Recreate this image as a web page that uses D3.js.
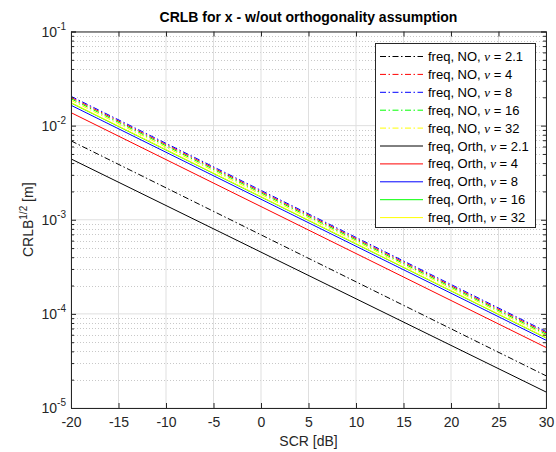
<!DOCTYPE html>
<html>
<head>
<meta charset="utf-8">
<script src="https://cdn.jsdelivr.net/npm/d3@7"></script>
<style>
  body { margin: 0; background: #fff; }
  text { font-family: "Liberation Sans", Arial, sans-serif; }
</style>
</head>
<body>
<div id="chart"></div>
<script>
var W = 556, H = 452;
var pl = 71, pr = 546, pt = 31.5, pb = 408;

// SCR range (dB) where every curve starts and ends
var scr = [-20, 30];
var xTicks = [-20, -15, -10, -5, 0, 5, 10, 15, 20, 25, 30];
var yDecades = [-5, -4, -3, -2, -1];

// series: CRLB^{1/2} read at SCR = -20 dB and 30 dB
var names = ["freq, NO, ", "freq, NO, ", "freq, NO, ", "freq, NO, ", "freq, NO, ",
  "freq, Orth, ", "freq, Orth, ", "freq, Orth, ", "freq, Orth, ", "freq, Orth, "];
var nus = ["2.1", "4", "8", "16", "32", "2.1", "4", "8", "16", "32"];
var colors = ["#000000", "#ff0000", "#0000ff", "#00ff00", "#ffff00",
  "#000000", "#ff0000", "#0000ff", "#00ff00", "#ffff00"];
var dashed = [true, true, true, true, true, false, false, false, false, false];
var startVals = [0.00689, 0.0199, 0.0205, 0.0193, 0.0186, 0.00443, 0.01374, 0.01645, 0.0174, 0.0176];
var endVals = [2.2e-5, 6.3e-5, 6.5e-5, 6.1e-5, 5.9e-5, 1.48e-5, 4.4e-5, 5.25e-5, 5.55e-5, 5.6e-5];

var svg = d3.select("#chart").append("svg").attr("width", W).attr("height", H);

var x = d3.scaleLinear().domain([-20, 30]).range([pl, pr]);
var y = d3.scaleLog().domain([1e-5, 1e-1]).range([pb, pt]);

// grid
var grid = svg.append("g");
var minor = [];
yDecades.slice(0, 4).forEach(function (d) {
  for (var k = 2; k <= 9; k++) minor.push(k * Math.pow(10, d));
});
grid.selectAll(".ym").data(minor).enter().append("line")
  .attr("x1", pl).attr("x2", pr)
  .attr("y1", function (d) { return Math.round(y(d)) + 0.5; }).attr("y2", function (d) { return Math.round(y(d)) + 0.5; })
  .style("stroke", "#c8c8c8").style("stroke-width", 1).style("stroke-dasharray", "1,2");
grid.selectAll(".yM").data(yDecades).enter().append("line")
  .attr("x1", pl).attr("x2", pr)
  .attr("y1", function (d) { return y(Math.pow(10, d)); }).attr("y2", function (d) { return y(Math.pow(10, d)); })
  .style("stroke", "#dfdfdf").style("stroke-width", 1);
grid.selectAll(".xM").data(xTicks).enter().append("line")
  .attr("y1", pt).attr("y2", pb)
  .attr("x1", function (d) { return x(d); }).attr("x2", function (d) { return x(d); })
  .style("stroke", "#dfdfdf").style("stroke-width", 1);

// curves
var line = d3.line().x(function (d) { return x(d[0]); }).y(function (d) { return y(d[1]); });
var plot = svg.append("g");
for (var i = 0; i < names.length; i++) {
  plot.append("path")
    .attr("d", line([[scr[0], startVals[i]], [scr[1], endVals[i]]]))
    .style("fill", "none").style("stroke", colors[i]).style("stroke-width", 1)
    .style("stroke-dasharray", dashed[i] ? "6,2.5,1.5,2.5" : null);
}

// axes
var axisColor = "#262626";
var xb = svg.append("g").attr("transform", "translate(0," + pb + ")")
  .call(d3.axisBottom(x).tickValues(xTicks).tickSize(-5).tickPadding(9).tickFormat(function (d) { return String(d); }));
var xt = svg.append("g").attr("transform", "translate(0," + pt + ")")
  .call(d3.axisTop(x).tickValues(xTicks).tickSize(-5).tickFormat(""));
var allY = minor.concat(yDecades.map(function (d) { return Math.pow(10, d); }));
var yl = svg.append("g").attr("transform", "translate(" + pl + ",0)")
  .call(d3.axisLeft(y).tickValues(allY).tickSize(-5).tickFormat(""));
var yr = svg.append("g").attr("transform", "translate(" + pr + ",0)")
  .call(d3.axisRight(y).tickValues(allY).tickSize(-5).tickFormat(""));
[xb, xt, yl, yr].forEach(function (g) {
  g.select(".domain").style("stroke", axisColor);
  g.selectAll(".tick line").style("stroke", axisColor);
});
yl.selectAll(".tick line").attr("x2", function (d) { return minor.indexOf(d) >= 0 ? 3 : 5; });
yr.selectAll(".tick line").attr("x2", function (d) { return minor.indexOf(d) >= 0 ? -3 : -5; });
xb.selectAll(".tick text").style("font-size", "14px").style("fill", axisColor)
  .style("font-family", "Liberation Sans, Arial, sans-serif");

// y decade labels 10^n
yDecades.forEach(function (d) {
  var t = svg.append("text").attr("x", pl - 5).attr("y", y(Math.pow(10, d)) + 5)
    .attr("text-anchor", "end").style("font-size", "14px").style("fill", axisColor);
  t.append("tspan").text("10");
  t.append("tspan").attr("dy", -7).style("font-size", "10px").text(String(d));
});

// titles
svg.append("text").attr("x", (pl + pr) / 2).attr("y", 22).attr("text-anchor", "middle")
  .style("font-size", "14px").style("font-weight", "bold").style("fill", "#000")
  .text("CRLB for x - w/out orthogonality assumption");
svg.append("text").attr("x", (pl + pr) / 2).attr("y", 446).attr("text-anchor", "middle")
  .style("font-size", "14px").style("fill", axisColor).text("SCR [dB]");
var ylab = svg.append("text").attr("transform", "translate(33," + (pt + pb) / 2 + ") rotate(-90)")
  .attr("text-anchor", "middle").style("font-size", "14px").style("fill", axisColor);
ylab.append("tspan").text("CRLB");
ylab.append("tspan").attr("dy", -6).style("font-size", "10px").text("1/2");
ylab.append("tspan").attr("dy", 6).text(" [m]");

// legend
var lg = svg.append("g");
lg.append("rect").attr("x", 375.5).attr("y", 43.5).attr("width", 160).attr("height", 184)
  .style("fill", "#fff").style("stroke", axisColor).style("stroke-width", 1);
for (var j = 0; j < names.length; j++) {
  var ly = 56.5 + j * 17.9;
  lg.append("line").attr("x1", 380).attr("x2", 423).attr("y1", ly).attr("y2", ly)
    .style("stroke", colors[j]).style("stroke-width", 1)
    .style("stroke-dasharray", dashed[j] ? "6,2.5,1.5,2.5" : null);
  var lt = lg.append("text").attr("x", 428).attr("y", ly + 4.5)
    .style("font-size", "13px").style("fill", "#000");
  lt.append("tspan").text(names[j]);
  lt.append("tspan").style("font-family", "Liberation Serif, serif").style("font-style", "italic").text("\u03bd");
  lt.append("tspan").text(" = " + nus[j]);
}
</script>
</body>
</html>
